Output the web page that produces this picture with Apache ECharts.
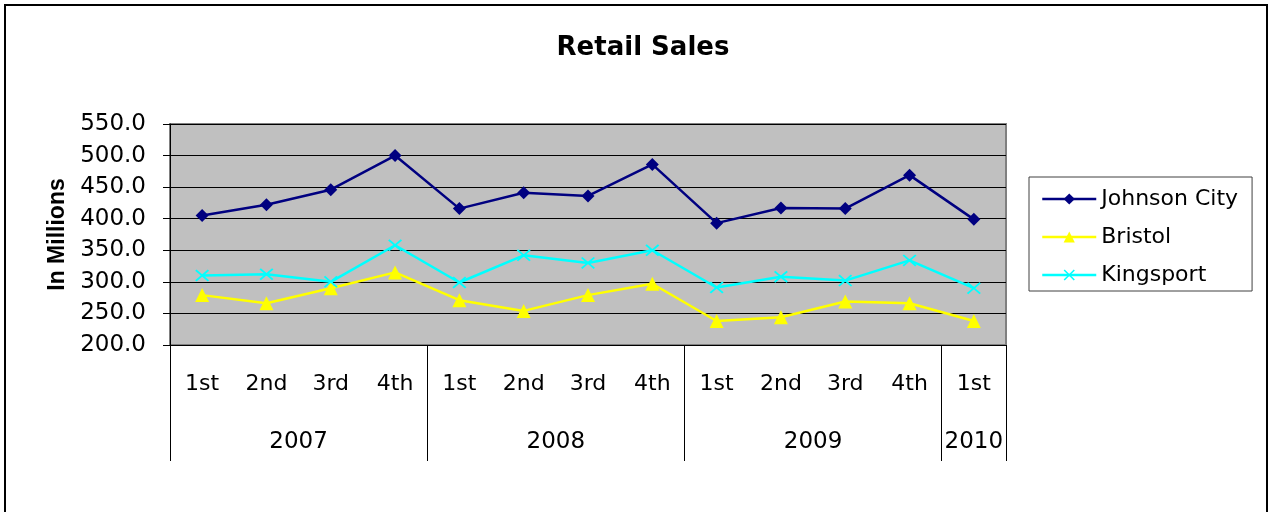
<!DOCTYPE html>
<html>
<head>
<meta charset="utf-8">
<title>Retail Sales</title>
<script src="https://cdn.jsdelivr.net/npm/echarts@6/dist/echarts.min.js"></script>
<style>
    html, body { margin: 0; padding: 0; background: #fff; }
    #chart { width: 1272px; height: 512px; }
</style>
</head>
<body>
<div id="chart"></div>
<script>
// quarter labels, one per point
const quarters = ['1st', '2nd', '3rd', '4th', '1st', '2nd', '3rd', '4th', '1st', '2nd', '3rd', '4th', '1st'];
// years and how many quarters each one covers
const years = ['2007', '2008', '2009', '2010'];
const quartersPerYear = [4, 4, 4, 1];

// sales, in millions
const johnsonCity = [405, 422, 446, 500, 416, 441, 436, 486, 393, 417, 416, 469, 399];
const bristol = [279, 266, 290, 315, 271, 254, 279, 297, 238, 244, 269, 266, 238];
const kingsport = [310, 312, 300, 358, 299, 342, 330, 350, 291, 308, 302, 334, 290];

const yTicks = [200, 250, 300, 350, 400, 450, 500, 550];

// year group borders and centres, on a 0..n scale lined up with the categories
const yearEdges = [0];
const yearCentres = [];
quartersPerYear.forEach((n, i) => {
    const start = yearEdges[i];
    yearEdges.push(start + n);
    yearCentres.push(start + n / 2);
});

const FONT = 'DejaVu Sans';
const crossPath = 'path://M0,1 L1,0 L5,4 L9,0 L10,1 L6,5 L10,9 L9,10 L5,6 L1,10 L0,9 L4,5 Z';

const chart = echarts.init(document.getElementById('chart'), null, { renderer: 'canvas' });

chart.setOption({
    animation: false,
    backgroundColor: '#fff',
    textStyle: { fontFamily: FONT, color: '#000' },
    title: {
        text: 'Retail Sales',
        left: 643,
        top: 35,
        textAlign: 'center',
        padding: 0,
        textStyle: { fontFamily: FONT, fontSize: 26, fontWeight: 'bold', color: '#000' }
    },
    graphic: [{
        type: 'rect',
        silent: true,
        shape: { x: 5, y: 5, width: 1262, height: 540 },
        style: { fill: 'none', stroke: '#000', lineWidth: 2 }
    }],
    legend: {
        orient: 'vertical',
        left: 1029,
        top: 177,
        padding: [10, 14, 4, 12],
        itemGap: 14,
        itemWidth: 54,
        itemHeight: 14,
        borderColor: '#404040',
        borderWidth: 1,
        lineStyle: { width: 2.5 },
        textStyle: { fontFamily: FONT, fontSize: 22, lineHeight: 24, color: '#000' },
        data: ['Johnson City', 'Bristol', 'Kingsport']
    },
    grid: {
        left: 170,
        right: 266,
        top: 124,
        bottom: 167,
        show: true,
        backgroundColor: '#c0c0c0',
        borderColor: '#808080',
        borderWidth: 2
    },
    xAxis: [{
        type: 'category',
        data: quarters,
        boundaryGap: true,
        axisLine: { show: true, lineStyle: { color: '#000', width: 1 } },
        axisTick: { show: false },
        axisLabel: { interval: 0, margin: 28, fontFamily: FONT, fontSize: 22, color: '#000' }
    }, {
        type: 'value',
        position: 'bottom',
        min: 0,
        max: quarters.length,
        axisLine: { show: false },
        splitLine: { show: false },
        axisTick: {
            show: true,
            customValues: yearEdges,
            length: 116,
            lineStyle: { color: '#000', width: 1 }
        },
        axisLabel: {
            customValues: yearCentres,
            margin: 86,
            fontFamily: FONT,
            fontSize: 23,
            color: '#000',
            formatter: (v) => {
                const i = yearCentres.indexOf(v);
                return i >= 0 ? years[i] : '';
            }
        }
    }],
    yAxis: {
        type: 'value',
        min: yTicks[0],
        max: yTicks[yTicks.length - 1],
        interval: 50,
        name: 'In Millions',
        nameLocation: 'middle',
        nameRotate: 90,
        nameGap: 100,
        nameTextStyle: { fontFamily: 'Liberation Sans', fontSize: 23, fontWeight: 'bold', color: '#000' },
        axisLine: { show: true, lineStyle: { color: '#000', width: 1 } },
        axisTick: { show: true, inside: false, length: 7, lineStyle: { color: '#000' } },
        axisLabel: {
            margin: 24,
            fontFamily: FONT,
            fontSize: 23,
            color: '#000',
            formatter: (v) => v.toFixed(1)
        },
        splitLine: { show: true, lineStyle: { color: '#000', width: 1 } }
    },
    series: [{
        name: 'Johnson City',
        type: 'line',
        data: johnsonCity,
        symbol: 'diamond',
        symbolSize: 13,
        showAllSymbol: true,
        color: '#000080',
        lineStyle: { width: 2.5, color: '#000080' },
        itemStyle: { color: '#000080' }
    }, {
        name: 'Bristol',
        type: 'line',
        data: bristol,
        symbol: 'triangle',
        symbolSize: 14,
        showAllSymbol: true,
        color: '#ffff00',
        lineStyle: { width: 2.5, color: '#ffff00' },
        itemStyle: { color: '#ffff00' }
    }, {
        name: 'Kingsport',
        type: 'line',
        data: kingsport,
        symbol: crossPath,
        symbolSize: [14, 12],
        showAllSymbol: true,
        color: '#00ffff',
        lineStyle: { width: 2.5, color: '#00ffff' },
        itemStyle: { color: '#00ffff' }
    }]
});
</script>
</body>
</html>
